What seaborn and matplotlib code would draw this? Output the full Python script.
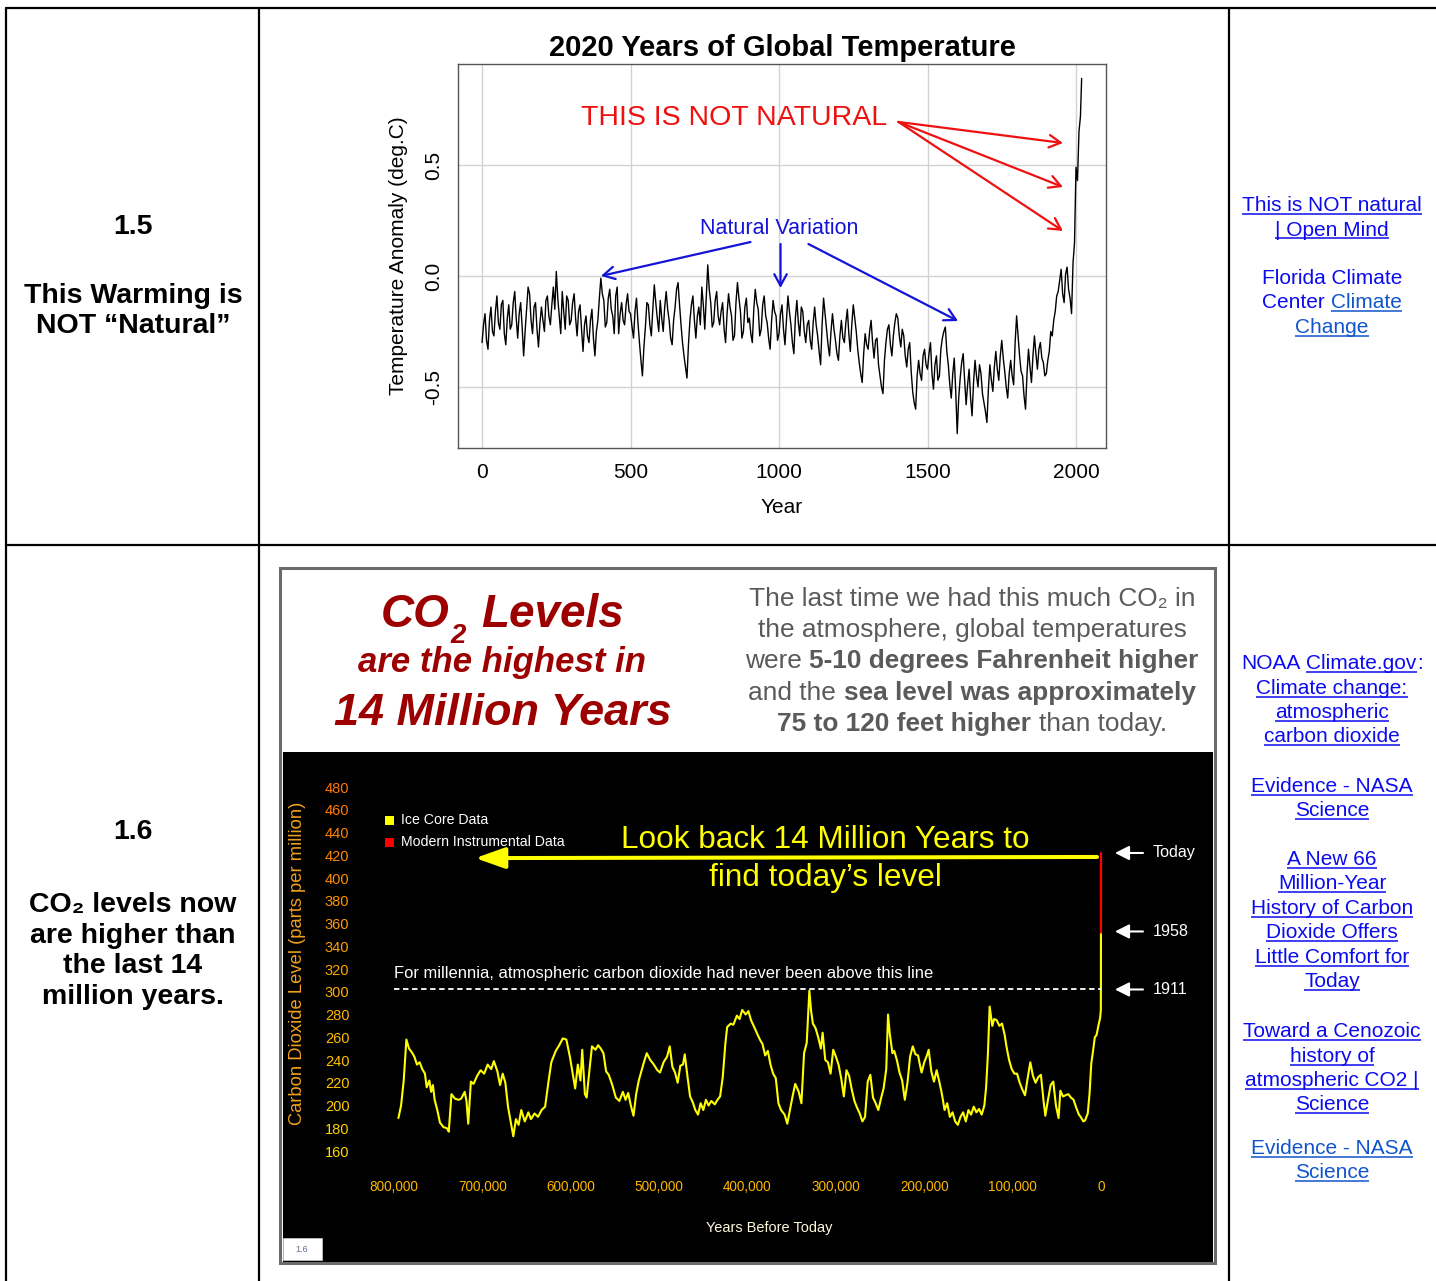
import matplotlib
matplotlib.use("Agg")
import matplotlib.pyplot as plt
import seaborn as sns
import numpy as np
from matplotlib import font_manager
from matplotlib.patches import Rectangle
from matplotlib.colors import to_rgb

# ---- 1.5 : global temperature anomaly (deg C), one reading every 5 years
temp_years = list(range(0, 2020, 5)) + [2019]
temp_anom = [
    -0.30, -0.22, -0.17, -0.29, -0.33, -0.20, -0.14, -0.25, -0.27, -0.16,
    -0.09, -0.21, -0.24, -0.13, -0.11, -0.26, -0.31, -0.19, -0.13, -0.24,
    -0.22, -0.12, -0.07, -0.19, -0.28, -0.17, -0.12, -0.23, -0.36, -0.25,
    -0.15, -0.05, -0.08, -0.20, -0.26, -0.14, -0.12, -0.24, -0.32, -0.21,
    -0.14, -0.20, -0.25, -0.11, -0.09, -0.18, -0.22, -0.13, -0.05, -0.15,
    0.02, -0.10, -0.18, -0.26, -0.07, -0.16, -0.24, -0.09, -0.11, -0.22,
    -0.20, -0.12, -0.08, -0.19, -0.27, -0.16, -0.13, -0.24, -0.34, -0.22,
    -0.18, -0.27, -0.30, -0.20, -0.15, -0.28, -0.36, -0.25, -0.20, -0.10,
    -0.01, -0.08, -0.11, -0.23, -0.21, -0.10, -0.06, -0.15, -0.18, -0.26,
    -0.09, -0.05, -0.26, -0.17, -0.12, -0.20, -0.22, -0.13, -0.08, -0.16,
    -0.17, -0.23, -0.28, -0.16, -0.10, -0.21, -0.30, -0.38, -0.45, -0.32,
    -0.23, -0.12, -0.13, -0.22, -0.27, -0.15, -0.04, -0.12, -0.19, -0.25,
    -0.11, -0.19, -0.25, -0.14, -0.07, -0.15, -0.20, -0.28, -0.31, -0.20,
    -0.14, -0.06, -0.03, -0.13, -0.22, -0.30, -0.36, -0.41, -0.46, -0.31,
    -0.20, -0.13, -0.09, -0.20, -0.28, -0.18, -0.14, -0.22, -0.05, -0.13,
    -0.24, -0.09, 0.05, -0.06, -0.12, -0.23, -0.21, -0.11, -0.07, -0.18,
    -0.22, -0.16, -0.12, -0.24, -0.30, -0.17, -0.08, -0.14, -0.18, -0.29,
    -0.27, -0.12, -0.03, -0.10, -0.16, -0.28, -0.25, -0.14, -0.10, -0.21,
    -0.19, -0.26, -0.30, -0.15, -0.06, -0.12, -0.15, -0.27, -0.24, -0.13,
    -0.09, -0.18, -0.21, -0.28, -0.33, -0.20, -0.11, -0.16, -0.18, -0.29,
    -0.26, -0.17, -0.13, -0.24, -0.31, -0.20, -0.09, -0.16, -0.22, -0.30,
    -0.35, -0.19, -0.11, -0.21, -0.27, -0.14, -0.16, -0.25, -0.30, -0.22,
    -0.20, -0.29, -0.33, -0.21, -0.14, -0.22, -0.27, -0.34, -0.40, -0.22,
    -0.10, -0.17, -0.24, -0.31, -0.36, -0.25, -0.17, -0.24, -0.29, -0.35,
    -0.38, -0.27, -0.20, -0.28, -0.30, -0.21, -0.15, -0.26, -0.34, -0.22,
    -0.13, -0.19, -0.25, -0.33, -0.39, -0.44, -0.48, -0.35, -0.26, -0.31,
    -0.33, -0.25, -0.20, -0.30, -0.37, -0.29, -0.28, -0.40, -0.45, -0.50,
    -0.53, -0.38, -0.30, -0.24, -0.22, -0.31, -0.36, -0.27, -0.21, -0.17,
    -0.19, -0.27, -0.32, -0.24, -0.27, -0.36, -0.41, -0.33, -0.30, -0.43,
    -0.52, -0.57, -0.60, -0.45, -0.38, -0.44, -0.47, -0.36, -0.33, -0.40,
    -0.42, -0.35, -0.30, -0.44, -0.51, -0.40, -0.36, -0.47, -0.45, -0.33,
    -0.28, -0.25, -0.23, -0.34, -0.40, -0.49, -0.55, -0.44, -0.37, -0.52,
    -0.71, -0.55, -0.46, -0.39, -0.35, -0.47, -0.58, -0.49, -0.42, -0.55,
    -0.63, -0.48, -0.38, -0.45, -0.50, -0.40, -0.44, -0.53, -0.57, -0.61,
    -0.66, -0.51, -0.40, -0.47, -0.52, -0.41, -0.34, -0.42, -0.47, -0.36,
    -0.29, -0.37, -0.43, -0.50, -0.55, -0.44, -0.38, -0.45, -0.49, -0.30,
    -0.18, -0.27, -0.36, -0.43, -0.45, -0.54, -0.60, -0.44, -0.33, -0.41,
    -0.48, -0.36, -0.27, -0.35, -0.42, -0.33, -0.30, -0.37, -0.39, -0.45,
    -0.44, -0.38, -0.34, -0.25, -0.27, -0.20, -0.16, -0.09, -0.07, -0.02,
    0.03, -0.08, -0.12, 0.01, 0.04, -0.06, -0.10, -0.17, 0.06, 0.15,
    0.49, 0.43, 0.65, 0.72, 0.89,
]
temp_xticks = [0, 500, 1000, 1500, 2000]
temp_yticks = [-0.5, 0.0, 0.5]
temp_ylabels = ["-0.5", "0.0", "0.5"]

# ---- 1.6 : CO2 (ppm), thousands of years before today
co2_kyr = [
    795, 792, 789, 786, 783, 780, 777, 774, 771, 768, 765, 763, 760, 758, 756, 754,
    751, 748, 744, 740, 738, 735, 731, 727, 724, 720, 718, 716, 713, 710, 706, 702,
    698, 694, 690, 687, 683, 680, 677, 674, 671, 668, 665, 662, 659, 656, 652, 648,
    645, 641, 637, 633, 629, 625, 622, 617, 613, 609, 605, 601, 598, 595, 592, 589,
    587, 584, 582, 579, 576, 572, 569, 566, 563, 560, 557, 553, 549, 545, 541, 538,
    535, 532, 529, 526, 523, 518, 514, 510, 506, 502, 499, 495, 491, 488, 485, 482,
    479, 476, 473, 471, 468, 465, 462, 459, 456, 453, 450, 447, 444, 441, 437, 434,
    431, 428, 425, 423, 419, 416, 412, 409, 406, 402, 399, 396, 393, 389, 386, 383,
    380, 377, 374, 371, 368, 365, 362, 358, 355, 352, 349, 346, 342, 339, 336, 333,
    330, 328, 326, 323, 320, 317, 315, 312, 309, 306, 303, 300, 297, 294, 291, 288,
    285, 282, 279, 276, 273, 270, 267, 264, 261, 258, 255, 252, 249, 246, 243, 241,
    239, 236, 234, 231, 228, 225, 222, 219, 216, 213, 210, 207, 205, 203, 200, 197,
    195, 192, 189, 186, 183, 180, 177, 174, 171, 168, 165, 162, 159, 156, 153, 150,
    147, 144, 141, 138, 135, 132, 130, 128, 126, 123, 121, 118, 115, 112, 109, 107,
    104, 101, 98, 95, 92, 89, 86, 83, 80, 77, 74, 71, 68, 65, 63, 60,
    57, 54, 51, 48, 46, 43, 40, 37, 34, 31, 28, 25, 23, 20, 18, 15,
    13, 11, 9, 7, 5, 3, 1, 0.2, 0.109, 0.062,
]
co2_ppm = [
    189, 200, 222, 258, 250, 247, 243, 236, 238, 232, 228, 216, 222, 212, 218, 205,
    196, 185, 181, 180, 177, 210, 206, 205, 206, 212, 204, 184, 221, 219, 226, 231,
    228, 236, 232, 239, 230, 218, 228, 220, 199, 186, 173, 188, 183, 196, 186, 194,
    188, 193, 190, 196, 199, 222, 238, 248, 253, 259, 258, 243, 229, 215, 236, 222,
    249, 210, 207, 230, 252, 249, 253, 250, 246, 230, 227, 218, 207, 204, 212, 205,
    211, 200, 191, 210, 222, 236, 246, 240, 236, 231, 229, 238, 243, 252, 234, 229,
    220, 235, 236, 245, 226, 208, 203, 196, 192, 202, 196, 205, 200, 204, 201, 205,
    208, 225, 255, 269, 272, 271, 279, 276, 284, 280, 283, 275, 270, 263, 258, 254,
    244, 248, 236, 228, 224, 202, 196, 192, 184, 196, 208, 219, 212, 202, 246, 255,
    301, 283, 272, 268, 260, 250, 264, 240, 238, 228, 249, 243, 236, 224, 208, 231,
    226, 214, 204, 198, 193, 186, 190, 221, 227, 207, 202, 196, 206, 215, 232, 280,
    263, 246, 248, 240, 229, 222, 205, 220, 243, 252, 245, 244, 236, 229, 238, 244,
    249, 230, 221, 231, 221, 210, 196, 202, 190, 194, 186, 183, 190, 194, 186, 196,
    192, 199, 194, 197, 192, 200, 216, 245, 287, 270, 276, 275, 270, 272, 262, 252,
    240, 232, 228, 228, 220, 214, 209, 224, 238, 226, 220, 225, 227, 204, 191, 205,
    218, 221, 200, 189, 213, 208, 209, 210, 207, 205, 198, 192, 190, 186, 187, 193,
    210, 237, 248, 260, 262, 270, 277, 284, 302, 352,
]
modern_kyr = [0.062, 0.0]
modern_ppm = [352, 422]
threshold_ppm = 302
marker_labels = ["Today", "1958", "1911"]
marker_ppm = [422, 353, 302]
co2_xticks = [800, 700, 600, 500, 400, 300, 200, 100, 0]
co2_xlabels = ["800,000", "700,000", "600,000", "500,000", "400,000",
               "300,000", "200,000", "100,000", "0"]
co2_yticks = [160, 180, 200, 220, 240, 260, 280, 300, 320, 340, 360, 380, 400, 420, 440, 460, 480]

# ---- fonts
sns.set_theme(style="white", rc={"text.color": "black", "axes.labelcolor": "black",
                                 "xtick.color": "black", "ytick.color": "black"})
installed = {f.name for f in font_manager.fontManager.ttflist}
SANS = ["Liberation Sans", "DejaVu Sans"]
NARROW = (["Liberation Sans Narrow"] if "Liberation Sans Narrow" in installed else []) + SANS
plt.rcParams["font.family"] = SANS
plt.rcParams["axes.unicode_minus"] = False

W, H = 1436, 1281
fig = plt.figure(figsize=(W / 100, H / 100), dpi=100)
bg = fig.add_axes([0, 0, 1, 1])
bg.set_xlim(0, W)
bg.set_ylim(H, 0)
bg.axis("off")
renderer = fig.canvas.get_renderer()


def frac(l, t, r, b):
    return [l / W, 1 - b / H, (r - l) / W, (b - t) / H]


def text_width(s, size, weight="normal", style="normal", family=SANS):
    t = bg.text(0, 0, s, fontsize=size, fontweight=weight, fontstyle=style, family=family)
    w = t.get_window_extent(renderer).width
    t.remove()
    return w


def fit(t, target):
    t.set_fontsize(t.get_fontsize() * target / t.get_window_extent(renderer).width)
    return t


def rich(xc, yb, parts, size, family=SANS):
    # parts: (text, colour, weight, underline, space before)
    gap = text_width("n n", size, family=family) - text_width("nn", size, family=family)
    widths = [text_width(p[0], size, p[2], family=family) for p in parts]
    total = sum(widths) + gap * sum(1 for p in parts if p[4])
    x = xc - total / 2
    for (s, c, w, ul, g), wd in zip(parts, widths):
        if g:
            x += gap
        bg.text(x, yb, s, color=c, fontsize=size, fontweight=w, family=family,
                ha="left", va="baseline")
        if ul:
            bg.plot([x, x + wd], [yb + 2.5, yb + 2.5], color=c, lw=1.1, solid_capstyle="butt")
        x += wd


def arrow(ax, start, end, color, lw, style, scale):
    ax.annotate("", xy=end, xytext=start, annotation_clip=False,
                arrowprops=dict(arrowstyle=style, color=color, lw=lw,
                                mutation_scale=scale, shrinkA=0, shrinkB=0))


# ---- table grid
for x in (6, 259, 1229):
    bg.plot([x, x], [8, H], color="black", lw=1.6)
for y in (8, 545):
    bg.plot([6, W], [y, y], color="black", lw=1.6)

# ---- left column
bg.text(133, 227, "1.5", ha="center", va="center", fontsize=20.5, fontweight="bold")
bg.text(133, 311, "This Warming is\nNOT “Natural”", ha="center", va="center",
        fontsize=20.5, fontweight="bold", linespacing=1.22)
bg.text(133, 832, "1.6", ha="center", va="center", fontsize=20.5, fontweight="bold")
bg.text(133, 951, "CO₂ levels now\nare higher than\nthe last 14\nmillion years.",
        ha="center", va="center", fontsize=20.5, fontweight="bold", linespacing=1.22)

# ---- right column links
BLUE, LINK = "#0b0bee", "#1155cc"
rc = 1332
rich(rc, 211, [("This is NOT natural", BLUE, "normal", True, False)], 15)
rich(rc, 235.5, [("| Open Mind", BLUE, "normal", True, False)], 15)
rich(rc, 284, [("Florida Climate", BLUE, "normal", False, False)], 15)
rich(rc, 308.5, [("Center", BLUE, "normal", False, False), ("Climate", LINK, "normal", True, True)], 15)
rich(rc, 333, [("Change", LINK, "normal", True, False)], 15)

rich(rc, 669, [("NOAA", BLUE, "normal", False, False), ("Climate.gov", BLUE, "normal", True, True),
               (":", BLUE, "normal", False, False)], 15)
link_lines = [
    (694, "Climate change:"), (718, "atmospheric"), (742, "carbon dioxide"),
    (792, "Evidence - NASA"), (816, "Science"),
    (865, "A New 66"), (889, "Million-Year"), (914, "History of Carbon"),
    (938, "Dioxide Offers"), (963, "Little Comfort for"), (987, "Today"),
    (1037, "Toward a Cenozoic"), (1062, "history of"), (1086, "atmospheric CO2 |"), (1110, "Science"),
]
for yb, s in link_lines:
    rich(rc, yb, [(s, BLUE, "normal", True, False)], 15)
rich(rc, 1154, [("Evidence - NASA", LINK, "normal", True, False)], 15)
rich(rc, 1178, [("Science", LINK, "normal", True, False)], 15)

# ---- 1.5 chart
ax1 = fig.add_axes(frac(458, 64, 1106, 448))
sns.lineplot(x=temp_years, y=temp_anom, ax=ax1, color="black", lw=1.0, estimator=None)
ax1.set_xlim(-81, 2101)
ax1.set_ylim(-0.775, 0.955)
ax1.set_xticks(temp_xticks)
ax1.set_yticks(temp_yticks, labels=temp_ylabels)
for lab in ax1.get_yticklabels():
    lab.set_rotation(90)
    lab.set_va("center")
ax1.grid(True, color="#d2d2d2", lw=1)
ax1.tick_params(length=0, labelsize=15, colors="black")
ax1.tick_params(axis="x", pad=11)
ax1.tick_params(axis="y", pad=11)
for s in ax1.spines.values():
    s.set_color("#555555")
    s.set_linewidth(1)
ax1.set_title("2020 Years of Global Temperature", fontsize=21, fontweight="bold", pad=5.5)
ax1.set_xlabel("Year", fontsize=15, labelpad=11)
ax1.set_ylabel("Temperature Anomaly (deg.C)", fontsize=15, labelpad=11)

RED = "#ee1111"
ax1.text(849, 0.712, "THIS IS NOT NATURAL", color=RED, fontsize=20.5, ha="center", va="center")
for yend in (0.599, 0.401, 0.203):
    arrow(ax1, (1402, 0.694), (1956, yend), RED, 1.6, "->,head_length=0.55,head_width=0.3", 15)
NAVY = "#1414d8"
ax1.text(1002, 0.212, "Natural Variation", color=NAVY, fontsize=15.5, ha="center", va="center")
arrow(ax1, (904, 0.153), (400, 0.0), NAVY, 1.6, "->,head_length=0.55,head_width=0.3", 15)
arrow(ax1, (1005, 0.144), (1005, -0.054), NAVY, 1.6, "->,head_length=0.55,head_width=0.3", 15)
arrow(ax1, (1099, 0.144), (1603, -0.203), NAVY, 1.6, "->,head_length=0.55,head_width=0.3", 15)

# ---- 1.6 panel
bg.add_patch(Rectangle((280, 568), 935, 695, facecolor="white", edgecolor="#6b6b6b", lw=2.2))
bg.add_patch(Rectangle((283, 752), 930, 510, facecolor="black", edgecolor="none"))

DARKRED = "#9c0000"
head = dict(color=DARKRED, fontweight="bold", fontstyle="italic", family=NARROW, va="baseline")
lv = fit(bg.text(481, 627, "Levels", fontsize=34, ha="left", **head), 143)
bg.text(450, 627, "CO", fontsize=lv.get_fontsize(), ha="right", **head)
bg.text(458, 643, "2", fontsize=lv.get_fontsize() * 0.6, ha="center", **head)
fit(bg.text(502, 672, "are the highest in", fontsize=24, ha="center", **head), 288)
fit(bg.text(503, 725, "14 Million Years", fontsize=34, ha="center", **head), 338)

GRAY = "#5a5a5a"
hs = 18 * 428 / text_width("the atmosphere, global temperatures", 18, family=NARROW)
rich(972, 606, [("The last time we had this much CO₂ in", GRAY, "normal", False, False)], hs, NARROW)
rich(972, 637, [("the atmosphere, global temperatures", GRAY, "normal", False, False)], hs, NARROW)
rich(972, 668, [("were", GRAY, "normal", False, False),
                ("5-10 degrees Fahrenheit higher", GRAY, "bold", False, True)], hs, NARROW)
rich(972, 700, [("and the", GRAY, "normal", False, False),
                ("sea level was approximately", GRAY, "bold", False, True)], hs, NARROW)
rich(972, 731, [("75 to 120 feet higher", GRAY, "bold", False, False),
                ("than today.", GRAY, "normal", False, True)], hs, NARROW)

ax2 = fig.add_axes(frac(355, 770, 1135, 1165))
ax2.patch.set_alpha(0)
sns.lineplot(x=co2_kyr, y=co2_ppm, ax=ax2, color="#ffff00", lw=1.5, estimator=None, sort=False)
sns.lineplot(x=modern_kyr, y=modern_ppm, ax=ax2, color="#ff0000", lw=1.6, estimator=None, sort=False)
ax2.set_xlim(844.13, -38.47)
ax2.set_ylim(147.7, 494.95)
ax2.set_xticks(co2_xticks, labels=co2_xlabels)
ax2.set_yticks(co2_yticks)
ax2.grid(False)
for s in ax2.spines.values():
    s.set_visible(False)
tsize = 11.5 * 49 / text_width("800,000", 11.5, family=NARROW)
ax2.tick_params(length=0, labelsize=tsize)
ax2.tick_params(axis="x", pad=11)
ax2.tick_params(axis="y", pad=4)
top, bot = np.array(to_rgb("#ff7400")), np.array(to_rgb("#ffd800"))
for lab, v in zip(ax2.get_yticklabels(), co2_yticks):
    f = (480 - v) / 320
    lab.set_color(tuple(top * (1 - f) + bot * f))
    lab.set_family(NARROW)
    lab.set_fontsize(tsize * 1.08)
for lab in ax2.get_xticklabels():
    lab.set_color("#ffb800")
    lab.set_family(NARROW)
ax2.set_xlabel("")
ax2.set_ylabel("")

ax2.hlines(threshold_ppm, 800, 0, colors="white", linestyles=(0, (3, 2)), lw=1.3)
fit(ax2.text(800, 316, "For millennia, atmospheric carbon dioxide had never been above this line",
             color="white", fontsize=13, family=NARROW, ha="left", va="center"), 533)
arrow(ax2, (4.5, 418.5), (708, 417.5), "#ffff00", 2.9, "-|>,head_length=0.9,head_width=0.32", 20)
msize = None
for lab, v in zip(marker_labels, marker_ppm):
    arrow(ax2, (-47.5, v), (-15.8, v), "white", 1.5, "-|>,head_length=0.85,head_width=0.43", 10)
    t = ax2.text(-58.8, v, lab, color="white", fontsize=13, family=NARROW, ha="left", va="center")
    if msize is None:
        msize = fit(t, 43).get_fontsize()
    t.set_fontsize(msize)

lk = fit(bg.text(825, 840, "Look back 14 Million Years to", color="#ffff00", fontsize=22,
                 ha="center", va="center"), 406)
bg.text(825, 878, "find today’s level", color="#ffff00", fontsize=lk.get_fontsize(),
        ha="center", va="center")

bg.add_patch(Rectangle((384.5, 815.5), 9, 9, facecolor="#ffff00", edgecolor="none"))
bg.add_patch(Rectangle((384.5, 837.5), 9, 9, facecolor="#ff0000", edgecolor="none"))
lg = fit(bg.text(401, 842, "Modern Instrumental Data", color="white", fontsize=12,
                 family=NARROW, ha="left", va="center"), 164)
bg.text(401, 820, "Ice Core Data", color="white", fontsize=lg.get_fontsize(),
        family=NARROW, ha="left", va="center")

fit(bg.text(769, 1228, "Years Before Today", color="#fdf8dc", fontsize=12,
            family=NARROW, ha="center", va="center"), 126)
bg.text(298, 963, "Carbon Dioxide Level (parts per million)", color="#f0a020", fontsize=13.2,
        rotation=90, ha="center", va="center")

bg.add_patch(Rectangle((283, 1238), 39, 22, facecolor="white", edgecolor="#cccccc", lw=0.5))
bg.text(302, 1249, "1.6", color="#5a6e8c", fontsize=6.5, ha="center", va="center")

fig.savefig("out.png", dpi=100)
